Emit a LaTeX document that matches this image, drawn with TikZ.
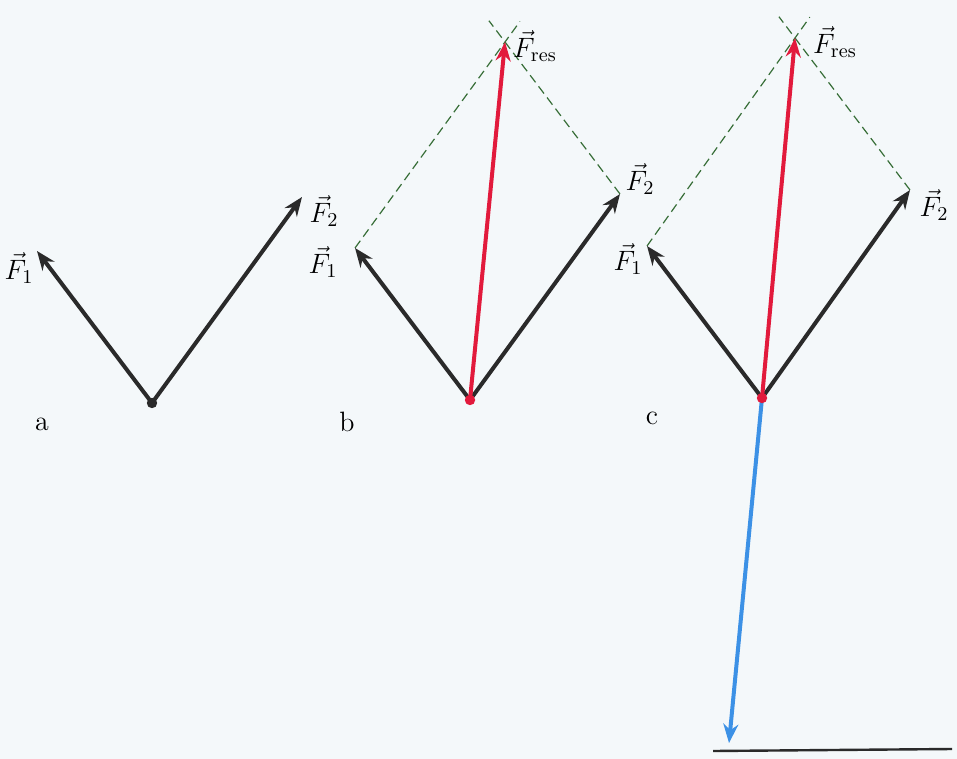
\RequirePackage{fix-cm}
\documentclass[tikz,border=0pt]{standalone}
\usetikzlibrary{arrows.meta,calc}
\definecolor{fondo}{RGB}{244,248,250}
\definecolor{rojo}{RGB}{226,26,60}
\definecolor{azul}{RGB}{60,145,230}
\definecolor{verde}{RGB}{55,110,55}
\definecolor{oscuro}{RGB}{42,42,42}
\begin{document}
\begin{tikzpicture}[x=0.5pt, y=-0.5pt,
    fuerza/.style={-{Stealth[length=9.5pt,width=7.5pt]}, line width=2pt, oscuro},
    resultante/.style={fuerza, rojo},
    opuesta/.style={fuerza, azul},
    guia/.style={verde, line width=0.6pt, dash pattern=on 4.5pt off 2.5pt},
    punto/.style={fill=#1},
    etiqueta/.style={inner sep=1pt, font=\fontsize{14}{16}\selectfont}]
    % Fondo
    \fill[fondo] (0,0) rectangle (957,759);
    \useasboundingbox (0,0) rectangle (957,759);

    % a: las dos fuerzas
    \coordinate (Oa) at (152,403);
    \coordinate (Aa) at ($(Oa)+(-115,-152)$);
    \coordinate (Ba) at ($(Oa)+(150,-206)$);
    \draw[fuerza] (Oa) -- (Aa);
    \draw[fuerza] (Oa) -- (Ba);
    \fill[punto=oscuro] (Oa) circle (2.6pt);
    \node[etiqueta] (fa1) at ($(Aa)+(-18,17)$) {$\vec{F}_1$};
    \node[etiqueta] (fa2) at ($(Ba)+(22,14)$) {$\vec{F}_2$};
    \node[etiqueta] (la) at (42,424) {a};

    % b: paralelogramo y resultante
    \coordinate (Ob) at (470,400);
    \coordinate (Ab) at ($(Ob)+(-115,-152)$);
    \coordinate (Bb) at ($(Ob)+(150,-206)$);
    \coordinate (Rb) at ($(Ob)+(35,-358)$);
    \draw[guia] (Ab) -- ($(Ab)!1.1!(Rb)$);
    \draw[guia] (Bb) -- ($(Bb)!1.14!(Rb)$);
    \draw[fuerza] (Ob) -- (Ab);
    \draw[fuerza] (Ob) -- (Bb);
    \draw[resultante] (Ob) -- (Rb);
    \fill[punto=rojo] (Ob) circle (2.6pt);
    \node[etiqueta] (fb1) at ($(Ab)+(-32,14)$) {$\vec{F}_1$};
    \node[etiqueta] (fb2) at ($(Bb)+(20,-15)$) {$\vec{F}_2$};
    \node[etiqueta] (fbr) at ($(Rb)+(30,4)$) {$\vec{F}_{\mathrm{res}}$};
    \node[etiqueta] (lb) at (347,422) {b};

    % c: resultante y fuerza opuesta
    \coordinate (Oc) at (762,398);
    \coordinate (Ac) at ($(Oc)+(-115,-152)$);
    \coordinate (Bc) at ($(Oc)+(148,-208)$);
    \coordinate (Rc) at ($(Oc)+(33,-360)$);
    \coordinate (Ec) at ($(Oc)+(-33,345)$);
    \draw[guia] (Ac) -- ($(Ac)!1.1!(Rc)$);
    \draw[guia] (Bc) -- ($(Bc)!1.14!(Rc)$);
    \draw[fuerza] (Oc) -- (Ac);
    \draw[fuerza] (Oc) -- (Bc);
    \draw[resultante] (Oc) -- (Rc);
    \draw[opuesta] (Oc) -- (Ec);
    \fill[punto=rojo] (Oc) circle (2.6pt);
    \node[etiqueta] (fc1) at ($(Ac)+(-19,13)$) {$\vec{F}_1$};
    \node[etiqueta] (fc2) at ($(Bc)+(24,15)$) {$\vec{F}_2$};
    \node[etiqueta] (fcr) at ($(Rc)+(40,4)$) {$\vec{F}_{\mathrm{res}}$};
    \node[etiqueta] (lc) at (652,418) {c};

    % borde inferior
    \draw[oscuro, line width=1.2pt] (713,751) -- (952,749);
\end{tikzpicture}
\end{document}
